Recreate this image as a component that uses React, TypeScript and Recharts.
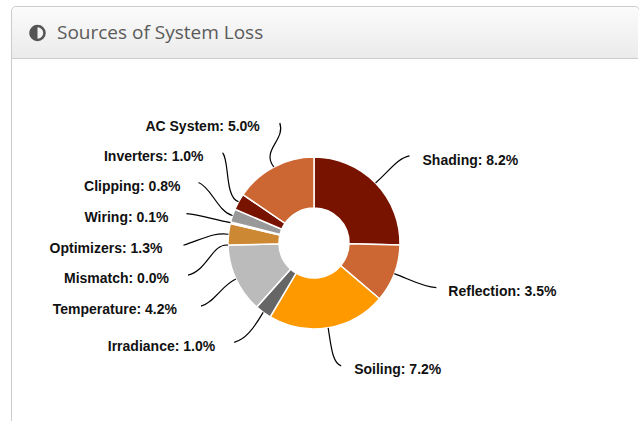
import React from "react";
import { PieChart, Pie, Cell } from "recharts";

const categories = ["Shading", "Reflection", "Soiling", "Irradiance", "Temperature", "Mismatch", "Optimizers", "Wiring", "Clipping", "Inverters", "AC System"];
const lossValues = [8.2, 3.5, 7.2, 1.0, 4.2, 0.0, 1.3, 0.1, 0.8, 1.0, 5.0];
const sliceColors = ["#781300", "#cc6633", "#ff9900", "#666666", "#bbbbbb", "#eeeeee", "#cc8833", "#ffdd99", "#999999", "#781300", "#cc6633"];

// Leader line shape relative to the slice's outer midpoint: [c1x, c1y, c2x, c2y, endx, endy]
const leaderShapes = [
  [13, -11, 22, -25, 34, -27],
  [14, 5, 28, 13, 42, 14],
  [3, 18, 4, 35, 13, 38],
  [-10, 17, -18, 27, -29, 30],
  [-14, 6, -22, 24, -35, 27],
  [-16, -2, -20, 25, -40, 30],
  [-14, -2, -24, 4, -45, 11],
  [-16, -3, -31, -8, -44, -9],
  [-15, -4, -21, -28, -34, -33],
  [-14, -4, -9, -42, -16, -49],
  [-13, -17, 12, -27, 6, -44],
];
// Label offset from the leader's end
const labelGaps = [
  [13, 4], [12, 3], [13, 3], [-19, 4], [-24, 3], [-19, 3], [-21, 3], [-18, 3], [-18, 4], [-19, 3], [-20, 3],
];

const rows = categories.map((name, i) => ({ name, value: lossValues[i] }));

function renderLabel(props: any) {
  const { cx, cy, midAngle, outerRadius, index } = props;
  const rad = (midAngle * Math.PI) / 180;
  const sx = cx + outerRadius * Math.cos(rad);
  const sy = cy - outerRadius * Math.sin(rad);
  const [a, b, c, d, e, f] = leaderShapes[index];
  const [gx, gy] = labelGaps[index];
  return (
    <g key={index}>
      <path
        d={`M${sx},${sy} C${sx + a},${sy + b} ${sx + c},${sy + d} ${sx + e},${sy + f}`}
        fill="none"
        stroke="#000000"
        strokeWidth={1.2}
      />
      <text
        x={sx + e + gx}
        y={sy + f + gy}
        dy={5}
        textAnchor={gx > 0 ? "start" : "end"}
        fontFamily="'Liberation Sans', Arial, sans-serif"
        fontWeight="bold"
        fontSize={14}
        fill="#111111"
      >
        {`${categories[index]}: ${lossValues[index].toFixed(1)}%`}
      </text>
    </g>
  );
}

export default function App() {
  return (
    <div style={{ position: "absolute", left: 0, top: 0, width: 639, height: 421, overflow: "hidden", background: "#fff" }}>
      <div
        style={{
          position: "absolute",
          left: 11,
          top: 6,
          width: 627,
          height: 500,
          border: "1px solid #cccccc",
          borderRadius: 5,
          boxSizing: "content-box",
        }}
      />
      <div
        style={{
          position: "absolute",
          left: 12,
          top: 7,
          width: 626,
          height: 51,
          borderBottom: "1px solid #cccccc",
          borderRadius: "5px 5px 0 0",
          background: "linear-gradient(#fbfbfb, #ebebeb)",
        }}
      />
      <svg style={{ position: "absolute", left: 28, top: 23 }} width={20} height={20}>
        <circle cx={9.5} cy={10} r={7} fill="#f4f4f4" stroke="#555555" strokeWidth={2.6} />
        <path d="M9.5,3 A7,7 0 0 0 9.5,17 Z" fill="#555555" />
      </svg>
      <div
        style={{
          position: "absolute",
          left: 57,
          top: 18,
          fontFamily: "'Open Sans', sans-serif",
          fontSize: 19,
          lineHeight: "28px",
          color: "#5a5a5a",
          whiteSpace: "nowrap",
        }}
      >
        Sources of System Loss
      </div>
      <div style={{ position: "absolute", left: 0, top: 0 }}>
        <PieChart width={639} height={421} margin={{ top: 0, right: 0, bottom: 0, left: 0 }}>
          <Pie
            data={rows}
            dataKey="value"
            nameKey="name"
            cx={314}
            cy={243}
            innerRadius={35}
            outerRadius={86}
            startAngle={90}
            endAngle={-270}
            stroke="#ffffff"
            strokeWidth={1.5}
            label={renderLabel}
            labelLine={false}
            isAnimationActive={false}
          >
            {rows.map((r, i) => (
              <Cell key={r.name} fill={sliceColors[i]} />
            ))}
          </Pie>
        </PieChart>
      </div>
    </div>
  );
}
